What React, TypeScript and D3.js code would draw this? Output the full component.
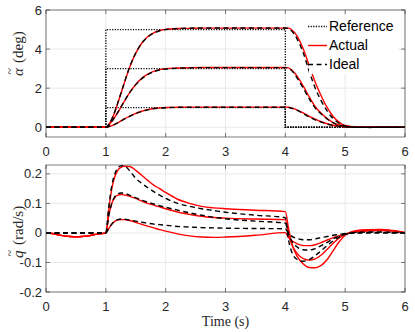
import React from 'react';
import * as d3 from 'd3';

// sample times (s)
const T = [0, 0.1, 0.2, 0.3, 0.4, 0.5, 0.6, 0.7, 0.8, 0.9,
  1.0, 1.05, 1.1, 1.15, 1.2, 1.25, 1.3, 1.4, 1.5, 1.6, 1.7, 1.8, 1.9, 2.0,
  2.2, 2.4, 2.6, 2.8, 3.0, 3.5,
  4.0, 4.05, 4.1, 4.2, 4.3, 4.4, 4.5, 4.6, 4.7, 4.8, 4.9, 5.0,
  5.2, 5.4, 5.6, 5.8, 6.0];

const Z10 = [0, 0, 0, 0, 0, 0, 0, 0, 0, 0];
const PRE_Q = [0, -0.002, -0.006, -0.01, -0.012, -0.013, -0.012, -0.01, -0.006, -0.003];

// reference steps
const refTime = [0, 1, 4, 6];
const refAmps = [1, 3, 5];

// alpha (deg)
const alphaIdeal5 = [...Z10, 0, 0.15, 0.42, 0.8, 1.25, 1.72, 2.2, 3.1, 3.8, 4.3, 4.62, 4.82, 4.94, 5.0,
  5.05, 5.07, 5.08, 5.08, 5.08, 5.08,
  5.08, 5.06, 4.95, 4.5, 3.8, 2.85, 2.0, 1.35, 0.82, 0.44, 0.2, 0.07, 0.0, -0.01, 0, 0, 0];
const alphaActual5 = [...Z10, 0, 0.14, 0.4, 0.78, 1.23, 1.7, 2.18, 3.08, 3.79, 4.3, 4.63, 4.83, 4.95, 5.01,
  5.05, 5.06, 5.07, 5.07, 5.07, 5.07,
  5.07, 5.07, 5.0, 4.65, 4.0, 3.15, 2.3, 1.6, 1.0, 0.55, 0.25, 0.09, 0.01, 0, 0, 0, 0];
const alphaIdeal3 = [...Z10, 0, 0.1, 0.3, 0.52, 0.76, 1.02, 1.28, 1.78, 2.18, 2.48, 2.7, 2.84, 2.93, 2.98,
  3.02, 3.04, 3.05, 3.05, 3.05, 3.05,
  3.05, 3.02, 2.92, 2.5, 2.0, 1.45, 0.98, 0.68, 0.42, 0.22, 0.1, 0.04, 0, 0, 0, 0, 0];
const alphaActual3 = [...Z10, 0, 0.1, 0.3, 0.52, 0.76, 1.02, 1.28, 1.78, 2.19, 2.5, 2.72, 2.86, 2.95, 3.0,
  3.03, 3.05, 3.06, 3.06, 3.06, 3.06,
  3.06, 3.04, 2.95, 2.6, 2.1, 1.55, 1.05, 0.72, 0.44, 0.24, 0.12, 0.05, 0.01, 0, 0, 0, 0];
const alphaIdeal1 = [...Z10, 0, 0.03, 0.08, 0.15, 0.23, 0.31, 0.4, 0.56, 0.7, 0.81, 0.89, 0.95, 0.98, 1.0,
  1.02, 1.02, 1.02, 1.02, 1.02, 1.02,
  1.02, 1.01, 0.97, 0.86, 0.7, 0.53, 0.38, 0.26, 0.16, 0.09, 0.05, 0.02, 0, 0, 0, 0, 0];
const alphaActual1 = [...Z10, 0, 0.03, 0.08, 0.15, 0.23, 0.32, 0.41, 0.57, 0.71, 0.82, 0.9, 0.96, 0.99, 1.01,
  1.02, 1.03, 1.03, 1.03, 1.03, 1.03,
  1.03, 1.02, 0.99, 0.88, 0.73, 0.56, 0.41, 0.28, 0.18, 0.1, 0.05, 0.02, 0, 0, 0, 0, 0];

// q (rad/s)
const qActual5 = [...PRE_Q, 0, 0.08, 0.15, 0.19, 0.212, 0.222, 0.226, 0.225, 0.212, 0.195, 0.178, 0.162, 0.15, 0.137,
  0.114, 0.1, 0.09, 0.085, 0.082, 0.077,
  0.072, 0.02, -0.03, -0.08, -0.105, -0.117, -0.118, -0.11, -0.09, -0.06, -0.03, -0.008, 0.008, 0.011, 0.012, 0.008, 0.001];
const qIdeal5 = [...Z10, 0, 0.09, 0.16, 0.2, 0.22, 0.227, 0.228, 0.21, 0.185, 0.168, 0.153, 0.14, 0.128, 0.117,
  0.1, 0.09, 0.082, 0.076, 0.07, 0.06,
  0.052, -0.02, -0.06, -0.09, -0.096, -0.09, -0.077, -0.06, -0.043, -0.027, -0.014, -0.005, 0.002, 0.003, 0.003, 0.002, 0.001];
const qActual3 = [...PRE_Q, 0, 0.06, 0.1, 0.12, 0.128, 0.13, 0.129, 0.124, 0.117, 0.108, 0.1, 0.094, 0.088, 0.082,
  0.071, 0.063, 0.056, 0.052, 0.05, 0.047,
  0.045, 0.0, -0.035, -0.07, -0.087, -0.092, -0.088, -0.075, -0.055, -0.035, -0.017, -0.005, 0.006, 0.009, 0.01, 0.007, 0.001];
const qIdeal3 = [...Z10, 0, 0.06, 0.1, 0.123, 0.132, 0.135, 0.135, 0.127, 0.119, 0.111, 0.104, 0.098, 0.092, 0.087,
  0.077, 0.068, 0.06, 0.053, 0.048, 0.04,
  0.033, 0.0, -0.025, -0.048, -0.057, -0.058, -0.053, -0.043, -0.032, -0.02, -0.011, -0.004, 0.001, 0.002, 0.002, 0.001, 0];
const qActual1 = [...PRE_Q, 0, 0.015, 0.03, 0.039, 0.044, 0.045, 0.045, 0.042, 0.036, 0.029, 0.023, 0.017, 0.011, 0.006,
  -0.003, -0.01, -0.014, -0.015, -0.014, -0.008,
  0.001, -0.015, -0.025, -0.037, -0.043, -0.043, -0.04, -0.033, -0.024, -0.016, -0.009, -0.004, 0.004, 0.007, 0.008, 0.006, 0.001];
const qIdeal1 = [...Z10, 0, 0.015, 0.03, 0.04, 0.045, 0.047, 0.047, 0.043, 0.04, 0.036, 0.033, 0.03, 0.028, 0.026,
  0.022, 0.02, 0.018, 0.017, 0.016, 0.015,
  0.014, 0.0, -0.01, -0.019, -0.023, -0.023, -0.02, -0.016, -0.012, -0.008, -0.005, -0.002, 0, 0, 0, 0, 0];

const xTicks = [0, 1, 2, 3, 4, 5, 6];
const alphaTicks = [0, 2, 4, 6];
const qTicks = [-0.2, -0.1, 0, 0.1, 0.2];
const legendItems = ['Reference', 'Actual', 'Ideal'];

const W = 415, H = 332;
const left = 46, right = 405;
const sans = 'Liberation Sans, Arial, sans-serif';
const serif = 'Liberation Serif, Times New Roman, serif';
const axisColor = '#262626';
const gridColor = '#e3e3e3';

function Panel({ top, bottom, domain, yTicks, id, children }) {
  const x = d3.scaleLinear().domain([0, 6]).range([left, right]);
  const y = d3.scaleLinear().domain(domain).range([bottom, top]);
  const tl = 4;
  return (
    <g>
      <defs>
        <clipPath id={id}>
          <rect x={left} y={top} width={right - left} height={bottom - top} />
        </clipPath>
      </defs>
      {xTicks.map(t => (
        <line key={'gx' + t} x1={x(t)} x2={x(t)} y1={top} y2={bottom} stroke={gridColor} strokeWidth={0.8} />
      ))}
      {yTicks.map(t => (
        <line key={'gy' + t} x1={left} x2={right} y1={y(t)} y2={y(t)} stroke={gridColor} strokeWidth={0.8} />
      ))}
      <g clipPath={`url(#${id})`}>{children(x, y)}</g>
      <rect x={left} y={top} width={right - left} height={bottom - top} fill="none" stroke={axisColor} strokeWidth={0.6} />
      {xTicks.map(t => (
        <g key={'tx' + t}>
          <line x1={x(t)} x2={x(t)} y1={bottom} y2={bottom - tl} stroke={axisColor} strokeWidth={0.6} />
          <line x1={x(t)} x2={x(t)} y1={top} y2={top + tl} stroke={axisColor} strokeWidth={0.6} />
          <text x={x(t)} y={bottom + 19} textAnchor="middle" fontFamily={sans} fontSize={13} fill={axisColor}>{t}</text>
        </g>
      ))}
      {yTicks.map(t => (
        <g key={'ty' + t}>
          <line x1={left} x2={left + tl} y1={y(t)} y2={y(t)} stroke={axisColor} strokeWidth={0.6} />
          <line x1={right} x2={right - tl} y1={y(t)} y2={y(t)} stroke={axisColor} strokeWidth={0.6} />
          <text x={42} y={y(t)} dy="0.35em" textAnchor="end" fontFamily={sans} fontSize={13} fill={axisColor}>{String(t)}</text>
        </g>
      ))}
    </g>
  );
}

// rotated label with a tilde drawn over the leading symbol
function TildeLabel({ x, y, sym, rest }) {
  return (
    <g transform={`translate(${x},${y}) rotate(-90)`} fontFamily={serif} fontSize={15} fill={axisColor}>
      <text x={0} y={0} fontStyle="italic">{sym}</text>
      <text x={1.5} y={-9} fontSize={12}>~</text>
      <text x={13} y={0}>{rest}</text>
    </g>
  );
}

export default function App() {
  const lineOf = (x, y) => d3.line<number>().x((d, i) => x(T[i])).y(d => y(d)).curve(d3.curveMonotoneX);
  const refLine = (x, y, a) => d3.line<number>().x(d => x(d)).y((d, i) => y(i === 1 ? a : 0)).curve(d3.curveStepAfter)(refTime);

  const dotted = { stroke: '#000', strokeWidth: 1.3, strokeDasharray: '1.2,1.4', fill: 'none' };
  const red = { stroke: '#ff0000', strokeWidth: 1.4, fill: 'none' };
  const dashed = { stroke: '#000', strokeWidth: 1.4, strokeDasharray: '5,3.5', fill: 'none' };

  const alphaActual = [alphaActual1, alphaActual3, alphaActual5];
  const alphaIdeal = [alphaIdeal1, alphaIdeal3, alphaIdeal5];
  const qActual = [qActual1, qActual3, qActual5];
  const qIdeal = [qIdeal1, qIdeal3, qIdeal5];

  const legendY = [26.5, 45.5, 64.5];

  return (
    <svg width={W} height={H} style={{ position: 'absolute', left: 0, top: 0, background: '#fff' }}>
      <Panel top={10} bottom={137} domain={[-0.5, 6]} yTicks={alphaTicks} id="clipA">
        {(x, y) => {
          const l = lineOf(x, y);
          return (
            <g>
              {refAmps.map(a => <path key={'r' + a} d={refLine(x, y, a)} {...dotted} />)}
              {alphaActual.map((s, i) => <path key={'a' + i} d={l(s)} {...red} />)}
              {alphaIdeal.map((s, i) => <path key={'i' + i} d={l(s)} {...dashed} />)}
            </g>
          );
        }}
      </Panel>
      <Panel top={165} bottom={292} domain={[-0.2, 0.23]} yTicks={qTicks} id="clipQ">
        {(x, y) => {
          const l = lineOf(x, y);
          return (
            <g>
              {qActual.map((s, i) => <path key={'a' + i} d={l(s)} {...red} />)}
              {qIdeal.map((s, i) => <path key={'i' + i} d={l(s)} {...dashed} />)}
            </g>
          );
        }}
      </Panel>

      {/* legend */}
      <rect x={309} y={16} width={89} height={58} fill="#fff" />
      {legendItems.map((name, i) => {
        const st = i === 0 ? dotted : i === 1 ? red : dashed;
        return (
          <g key={name}>
            <line x1={308} x2={327} y1={legendY[i]} y2={legendY[i]} {...st} />
            <text x={329} y={legendY[i]} dy="0.35em" fontFamily={sans} fontSize={14} fill="#000">{name}</text>
          </g>
        );
      })}

      {/* axis labels */}
      <TildeLabel x={23} y={76} sym="α" rest="(deg)" />
      <TildeLabel x={23} y={258} sym="q" rest="(rad/s)" />
      <text x={225.5} y={326} textAnchor="middle" fontFamily={serif} fontSize={14} fill={axisColor}>Time (s)</text>
    </svg>
  );
}
